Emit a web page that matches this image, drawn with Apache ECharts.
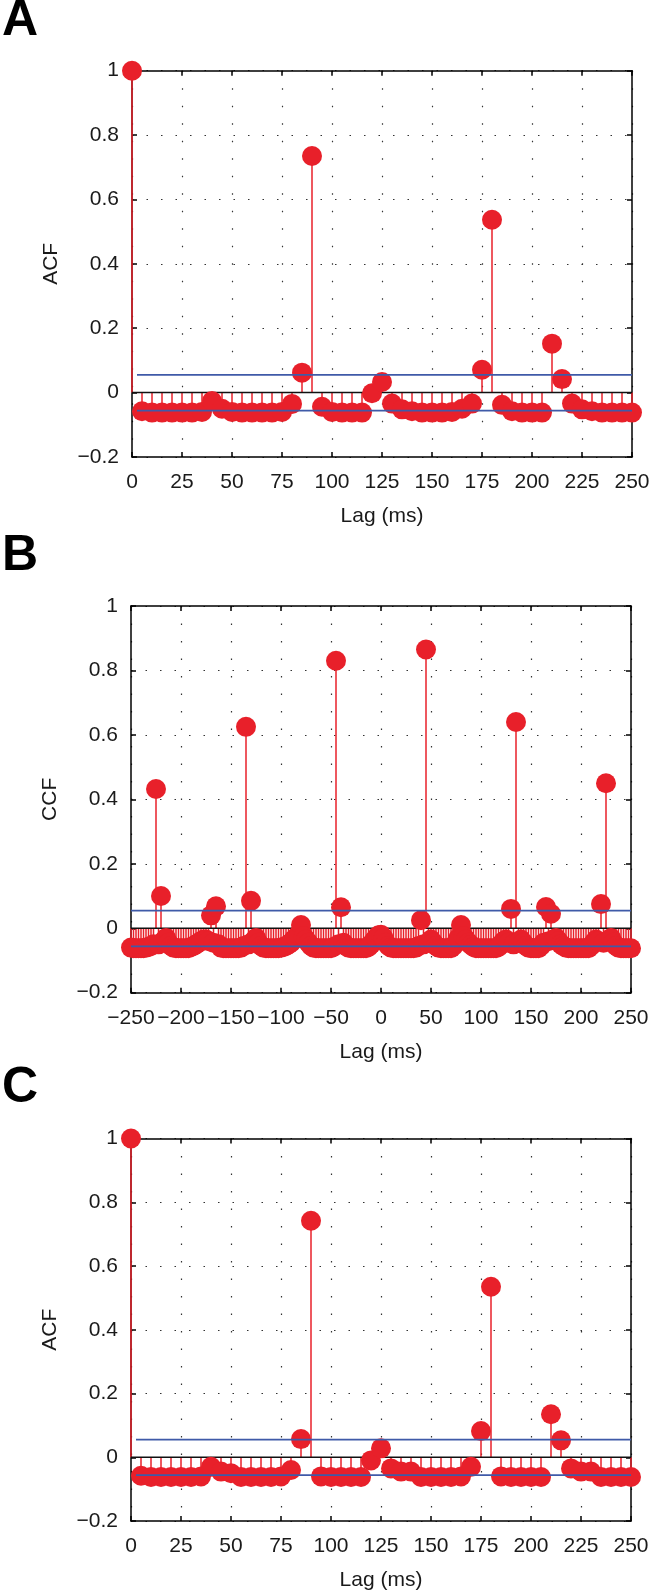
<!DOCTYPE html>
<html>
<head>
<meta charset="utf-8">
<script src="https://cdn.jsdelivr.net/npm/echarts@6/dist/echarts.min.js"></script>
<style>
html,body{margin:0;padding:0;background:#fff;}
#chart{width:666px;height:1592px;}
</style>
</head>
<body>
<div id="chart"></div>
<script>
// ---------------- DATA ----------------
// Panel A: ACF, lags 0..250 ms (step 5)
const lagsA = [0,5,10,15,20,25,30,35,40,45,50,55,60,65,70,75,80,85,90,95,100,105,110,115,120,125,130,135,140,145,150,155,160,165,170,175,180,185,190,195,200,205,210,215,220,225,230,235,240,245,250];
const acfA = [1.0,-0.058,-0.062,-0.062,-0.062,-0.062,-0.062,-0.06,-0.026,-0.05,-0.06,-0.062,-0.062,-0.062,-0.062,-0.06,-0.035,0.062,0.735,-0.044,-0.06,-0.062,-0.062,-0.062,-0.002,0.033,-0.034,-0.052,-0.058,-0.062,-0.062,-0.062,-0.06,-0.05,-0.034,0.071,0.537,-0.038,-0.058,-0.062,-0.062,-0.062,0.152,0.042,-0.034,-0.052,-0.058,-0.062,-0.062,-0.062,-0.062];

// Panel B: CCF, lags -250..250 ms (step 2.5)
const lagsB = [
  -250,-247.5,-245,-242.5,-240,-237.5,-235,-232.5,-230,-227.5,-225,-222.5,-220,-217.5,-215,-212.5,-210,-207.5,-205,-202.5,
  -200,-197.5,-195,-192.5,-190,-187.5,-185,-182.5,-180,-177.5,-175,-172.5,-170,-167.5,-165,-162.5,-160,-157.5,-155,-152.5,
  -150,-147.5,-145,-142.5,-140,-137.5,-135,-132.5,-130,-127.5,-125,-122.5,-120,-117.5,-115,-112.5,-110,-107.5,-105,-102.5,
  -100,-97.5,-95,-92.5,-90,-87.5,-85,-82.5,-80,-77.5,-75,-72.5,-70,-67.5,-65,-62.5,-60,-57.5,-55,-52.5,
  -50,-47.5,-45,-42.5,-40,-37.5,-35,-32.5,-30,-27.5,-25,-22.5,-20,-17.5,-15,-12.5,-10,-7.5,-5,-2.5,
  0,2.5,5,7.5,10,12.5,15,17.5,20,22.5,25,27.5,30,32.5,35,37.5,40,42.5,45,47.5,
  50,52.5,55,57.5,60,62.5,65,67.5,70,72.5,75,77.5,80,82.5,85,87.5,90,92.5,95,97.5,
  100,102.5,105,107.5,110,112.5,115,117.5,120,122.5,125,127.5,130,132.5,135,137.5,140,142.5,145,147.5,
  150,152.5,155,157.5,160,162.5,165,167.5,170,172.5,175,177.5,180,182.5,185,187.5,190,192.5,195,197.5,
  200,202.5,205,207.5,210,212.5,215,217.5,220,222.5,225,227.5,230,232.5,235,237.5,240,242.5,245,247.5,
  250];
const ccfB = [
  -0.06,-0.062,-0.062,-0.062,-0.062,-0.062,-0.06,-0.058,-0.055,-0.05,0.432,-0.05,0.1,-0.04,-0.03,-0.045,-0.055,-0.06,-0.062,-0.062,
  -0.062,-0.062,-0.062,-0.062,-0.058,-0.055,-0.05,-0.045,-0.04,-0.035,-0.035,-0.04,0.04,-0.045,0.068,-0.05,-0.06,-0.062,-0.062,-0.062,
  -0.062,-0.062,-0.062,-0.062,-0.06,-0.055,0.625,-0.05,0.085,-0.04,-0.03,-0.045,-0.055,-0.06,-0.062,-0.062,-0.062,-0.062,-0.062,-0.062,
  -0.06,-0.058,-0.055,-0.05,-0.045,-0.035,-0.03,-0.02,0.01,-0.025,-0.035,-0.045,-0.055,-0.06,-0.062,-0.062,-0.062,-0.062,-0.062,-0.062,
  -0.062,-0.058,0.83,-0.05,0.065,-0.045,-0.055,-0.06,-0.062,-0.062,-0.062,-0.062,-0.062,-0.062,-0.062,-0.058,-0.05,-0.04,-0.03,-0.022,
  -0.02,-0.03,-0.045,-0.055,-0.06,-0.062,-0.062,-0.062,-0.062,-0.062,-0.062,-0.062,-0.062,-0.062,-0.06,-0.055,0.025,-0.05,0.865,-0.045,
  -0.035,-0.045,-0.055,-0.06,-0.062,-0.062,-0.062,-0.062,-0.062,-0.055,-0.045,-0.03,0.01,-0.025,-0.035,-0.045,-0.052,-0.058,-0.062,-0.062,
  -0.062,-0.062,-0.062,-0.062,-0.062,-0.062,-0.062,-0.058,-0.05,-0.04,-0.035,-0.045,0.06,-0.05,0.64,-0.045,-0.035,-0.045,-0.055,-0.06,
  -0.062,-0.062,-0.062,-0.062,-0.055,-0.045,0.066,-0.04,0.045,-0.035,-0.03,-0.04,-0.05,-0.056,-0.06,-0.062,-0.062,-0.062,-0.062,-0.062,
  -0.062,-0.062,-0.062,-0.062,-0.055,-0.045,-0.035,-0.04,0.075,-0.045,0.45,-0.04,-0.03,-0.045,-0.055,-0.06,-0.062,-0.062,-0.062,-0.062,
  -0.062];

// Panel C: ACF, lags 0..250 ms (step 5)
const lagsC = [0,5,10,15,20,25,30,35,40,45,50,55,60,65,70,75,80,85,90,95,100,105,110,115,120,125,130,135,140,145,150,155,160,165,170,175,180,185,190,195,200,205,210,215,220,225,230,235,240,245,250];
const acfC = [1.0,-0.058,-0.062,-0.062,-0.062,-0.062,-0.062,-0.06,-0.03,-0.045,-0.05,-0.062,-0.062,-0.062,-0.062,-0.06,-0.04,0.057,0.742,-0.06,-0.062,-0.062,-0.062,-0.062,-0.01,0.028,-0.035,-0.045,-0.045,-0.062,-0.062,-0.062,-0.062,-0.06,-0.03,0.082,0.535,-0.06,-0.062,-0.062,-0.062,-0.062,0.135,0.053,-0.035,-0.045,-0.045,-0.062,-0.062,-0.062,-0.062];

// confidence bounds (blue lines)
const confXA = [2.5, 250];
const confUpA = [0.055, 0.055];
const confLoA = [-0.056, -0.056];
const confXB = [-250, 250];
const confUpB = [0.055, 0.055];
const confLoB = [-0.056, -0.056];
const confXC = [2.5, 250];
const confUpC = [0.055, 0.055];
const confLoC = [-0.056, -0.056];

// tick labels
const xTicksA = ['0','25','50','75','100','125','150','175','200','225','250'];
const xTicksB = ['\u2212250','\u2212200','\u2212150','\u2212100','\u221250','0','50','100','150','200','250'];
const xTicksC = ['0','25','50','75','100','125','150','175','200','225','250'];
const yTicks = ['\u22120.2','0','0.2','0.4','0.6','0.8','1'];

const yNames = ['ACF','CCF','ACF'];
const xName = 'Lag (ms)';
const panelLetters = ['A','B','C'];

// ---------------- STYLE ----------------
const RED = '#e8202a';
const BLUE = '#3f5aa8';
const FONT = '"Liberation Sans", Arial, Helvetica, sans-serif';

const panels = [
  {lags: lagsA, vals: acfA, xmin: 0, xmax: 250, xint: 25, xt: xTicksA, cx: confXA, cu: confUpA, cl: confLoA,
   grid: {left: 132, top: 70.7, width: 500, height: 386.3}, letterY: 22},
  {lags: lagsB, vals: ccfB, xmin: -250, xmax: 250, xint: 50, xt: xTicksB, cx: confXB, cu: confUpB, cl: confLoB,
   grid: {left: 131, top: 606, width: 500, height: 386.7}, letterY: 557},
  {lags: lagsC, vals: acfC, xmin: 0, xmax: 250, xint: 25, xt: xTicksC, cx: confXC, cu: confUpC, cl: confLoC,
   grid: {left: 131, top: 1138.5, width: 500, height: 385.5}, letterY: 1089}
];
const YMIN = -0.2, YMAX = 1, YINT = 0.2;

const grids = [], xAxes = [], yAxes = [], series = [], graphics = [];
const axisLineStyle = {color: '#000', width: 1.5};
const tickStyle = {color: '#000', width: 1.5};

panels.forEach((p, i) => {
  grids.push(Object.assign({containLabel: false}, p.grid));
  const fmtX = v => p.xt[Math.round((v - p.xmin) / p.xint)];
  const fmtY = v => yTicks[Math.round((v - YMIN) / YINT)];
  xAxes.push({
    type: 'value', gridIndex: i, min: p.xmin, max: p.xmax, interval: p.xint, position: 'bottom',
    axisLine: {show: true, onZero: false, lineStyle: axisLineStyle},
    axisTick: {show: true, inside: true, length: 5, lineStyle: tickStyle},
    axisLabel: {show: true, formatter: fmtX, color: '#1a1a1a', fontSize: 21, fontFamily: FONT, margin: 15},
    splitLine: {show: true, lineStyle: {type: [1.5, 16], color: '#333', width: 1.2}},
    name: xName, nameLocation: 'middle', nameGap: 49,
    nameTextStyle: {color: '#1a1a1a', fontSize: 21, fontFamily: FONT}
  });
  xAxes.push({
    type: 'value', gridIndex: i, min: p.xmin, max: p.xmax, interval: p.xint, position: 'top',
    axisLine: {show: true, onZero: false, lineStyle: axisLineStyle},
    axisTick: {show: true, inside: true, length: 5, lineStyle: tickStyle},
    axisLabel: {show: false}, splitLine: {show: false}
  });
  yAxes.push({
    type: 'value', gridIndex: i, min: YMIN, max: YMAX, interval: YINT, position: 'left',
    axisLine: {show: true, onZero: false, lineStyle: axisLineStyle},
    axisTick: {show: true, inside: true, length: 5, lineStyle: tickStyle},
    axisLabel: {show: true, formatter: fmtY, color: '#1a1a1a', fontSize: 21, fontFamily: FONT, margin: 13},
    splitLine: {show: true, lineStyle: {type: [1.5, 13], color: '#333', width: 1.2}},
    name: yNames[i], nameLocation: 'middle', nameGap: 70, nameRotate: 90,
    nameTextStyle: {color: '#1a1a1a', fontSize: 21, fontFamily: FONT}
  });
  yAxes.push({
    type: 'value', gridIndex: i, min: YMIN, max: YMAX, interval: YINT, position: 'right',
    axisLine: {show: true, onZero: false, lineStyle: axisLineStyle},
    axisTick: {show: true, inside: true, length: 5, lineStyle: tickStyle},
    axisLabel: {show: false}, splitLine: {show: false}
  });

  const pts = p.lags.map((l, k) => [l, p.vals[k]]);
  const xi = 2 * i, yi = 2 * i;
  series.push({
    type: 'custom', xAxisIndex: xi, yAxisIndex: yi, data: pts, clip: false, z: 2, silent: true,
    encode: {x: 0, y: 1},
    renderItem: (params, api) => {
      const x = api.value(0), y = api.value(1);
      const a = api.coord([x, 0]), b = api.coord([x, y]);
      return {type: 'line', shape: {x1: a[0], y1: a[1], x2: b[0], y2: b[1]},
              style: {stroke: RED, lineWidth: 1.5}};
    }
  });
  series.push({
    type: 'line', xAxisIndex: xi, yAxisIndex: yi, data: [[p.xmin, 0], [p.xmax, 0]],
    symbol: 'none', lineStyle: {color: '#111', width: 1.5}, z: 3, silent: true
  });
  series.push({
    type: 'scatter', xAxisIndex: xi, yAxisIndex: yi, data: pts, symbol: 'circle', symbolSize: 20,
    itemStyle: {color: RED, opacity: 1}, clip: false, z: 4, silent: true, large: false
  });
  series.push({
    type: 'line', xAxisIndex: xi, yAxisIndex: yi, data: p.cx.map((x, k) => [x, p.cu[k]]),
    symbol: 'none', lineStyle: {color: BLUE, width: 1.8}, z: 5, silent: true
  });
  series.push({
    type: 'line', xAxisIndex: xi, yAxisIndex: yi, data: p.cx.map((x, k) => [x, p.cl[k]]),
    symbol: 'none', lineStyle: {color: BLUE, width: 1.8}, z: 5, silent: true
  });

  graphics.push({
    type: 'text', left: 2, top: p.letterY - 26,
    style: {text: panelLetters[i], font: 'bold 50px ' + FONT, fill: '#000'}
  });
});

const chart = echarts.init(document.getElementById('chart'), null, {renderer: 'canvas'});
chart.setOption({
  animation: false,
  backgroundColor: '#ffffff',
  grid: grids,
  xAxis: xAxes,
  yAxis: yAxes,
  series: series,
  graphic: graphics
});
</script>
</body>
</html>
